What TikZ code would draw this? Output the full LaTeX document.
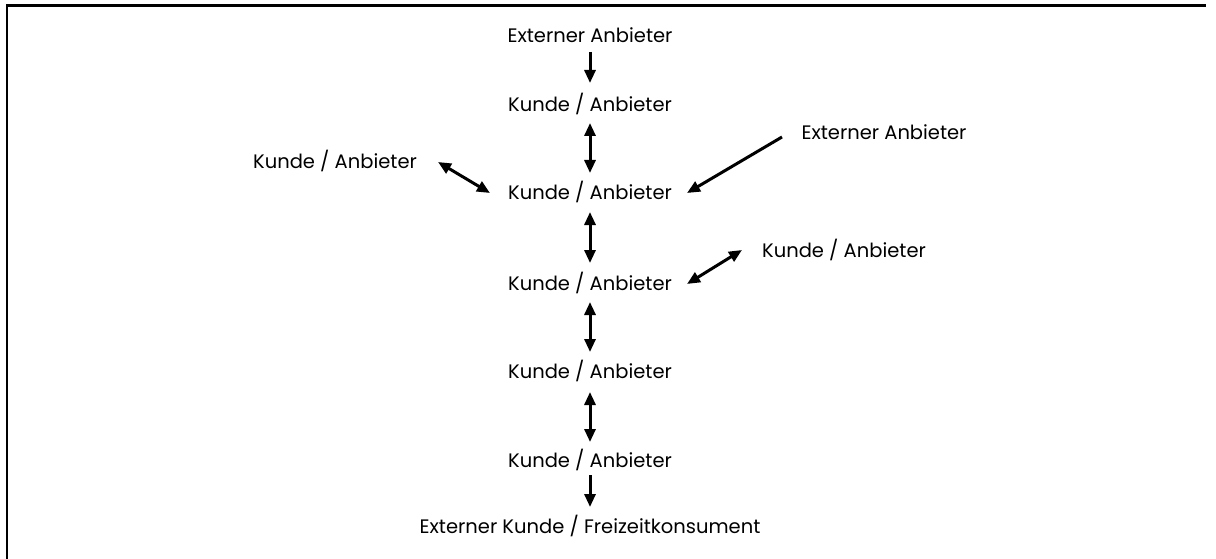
\documentclass[tikz,border=0pt]{standalone}
\usepackage{fontspec}
\setmainfont{Poppins}
\usetikzlibrary{arrows.meta}
\begin{document}
\begin{tikzpicture}[x=1pt,y=-1pt,
  lbl/.style={anchor=base,inner sep=0pt,font=\fontsize{19.5}{22}\selectfont},
  arr/.style={line width=3pt,-{Triangle[length=13pt,width=11pt]}},
  darr/.style={line width=3pt,{Triangle[length=13pt,width=11pt]}-{Triangle[length=13pt,width=11pt]}},
  frame/.style={line width=2.4pt}]
\useasboundingbox (0,0) rectangle (1216,559);
\draw[frame] (7,559) -- (7,5.5) -- (1206,5.5);
\node[lbl] (e1) at (590,43) {Externer Anbieter};
\node[lbl] (k2) at (590,112) {Kunde / Anbieter};
\node[lbl] (kl) at (335,168) {Kunde / Anbieter};
\node[lbl] (er) at (884,140) {Externer Anbieter};
\node[lbl] (k3) at (590,200) {Kunde / Anbieter};
\node[lbl] (kr) at (844,257) {Kunde / Anbieter};
\node[lbl] (k4) at (590,290) {Kunde / Anbieter};
\node[lbl] (k5) at (590,378) {Kunde / Anbieter};
\node[lbl] (k6) at (590,467) {Kunde / Anbieter};
\node[lbl] (ek) at (590,533) {Externer Kunde / Freizeitkonsument};
\draw[arr] ([yshift=-9pt]e1.base) -- ([yshift=29pt]k2.base);
\draw[darr] ([yshift=-11pt]k2.base) -- ([yshift=27pt]k3.base);
\draw[darr] ([yshift=-12pt]k3.base) -- ([yshift=27pt]k4.base);
\draw[darr] ([yshift=-12pt]k4.base) -- ([yshift=26pt]k5.base);
\draw[darr] ([yshift=-14pt]k5.base) -- ([yshift=25pt]k6.base);
\draw[arr] ([yshift=-8pt]k6.base) -- ([yshift=26pt]ek.base);
\draw[darr] ([shift={(103,-6)}]kl.base) -- ([shift={(-100,-7)}]k3.base);
\draw[arr] ([shift={(-102,-3)}]er.base) -- ([shift={(97,-7)}]k3.base);
\draw[darr] ([shift={(97,-6)}]k4.base) -- ([shift={(-102,-7)}]kr.base);
\end{tikzpicture}
\end{document}
